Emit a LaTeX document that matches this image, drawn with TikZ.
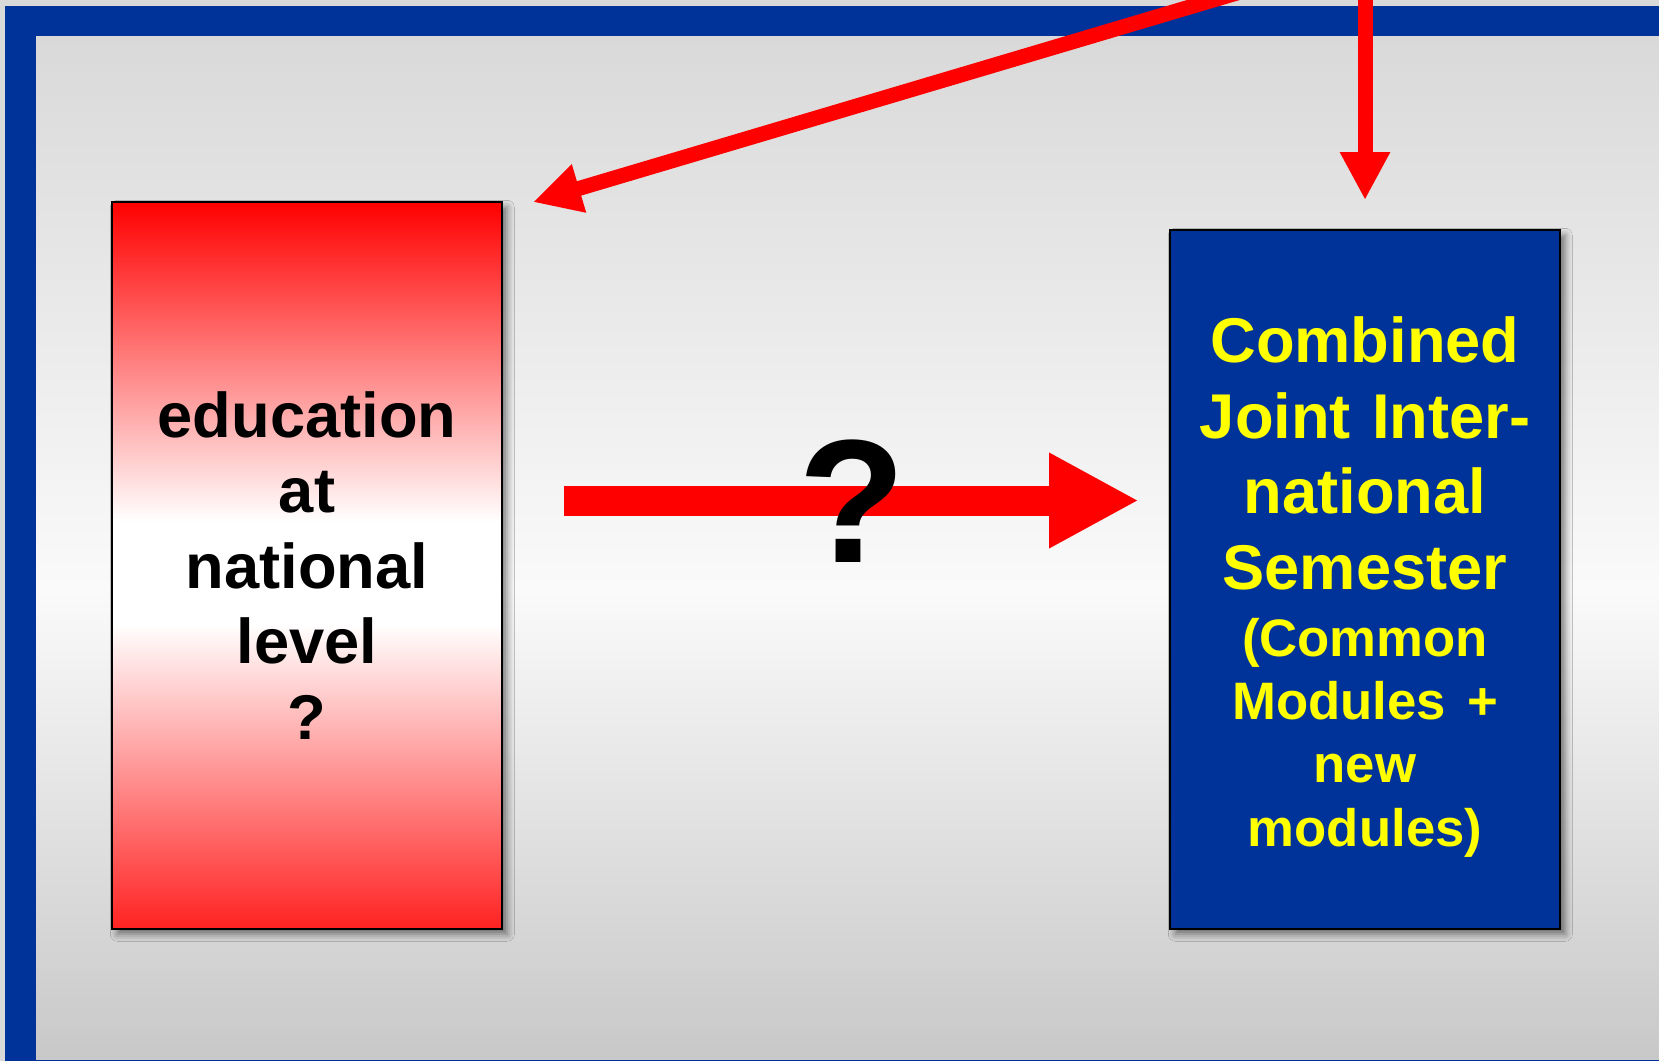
\documentclass[tikz,border=0pt]{standalone}
\usepackage{fontspec}
\setmainfont{Liberation Sans}
\usetikzlibrary{arrows.meta, positioning, calc, shadows.blur}

\definecolor{frameblue}{RGB}{0,51,153}
\definecolor{panelgray}{RGB}{217,217,217}
\definecolor{panellow}{RGB}{200,200,200}
\definecolor{panelwhite}{RGB}{250,250,250}
\definecolor{textyellow}{RGB}{255,255,0}
\definecolor{redlow}{RGB}{255,34,34}

\pgfdeclareverticalshading{panelfade}{100bp}{color(0bp)=(panellow); color(25bp)=(panellow); color(48bp)=(panelwhite); color(75bp)=(panelgray); color(100bp)=(panelgray)}
\pgfdeclareverticalshading{redfade}{100bp}{color(0bp)=(redlow); color(25bp)=(redlow); color(46bp)=(white); color(53bp)=(white); color(75bp)=(red); color(100bp)=(red)}

\begin{document}
\begin{tikzpicture}[x=0.02cm, y=-0.02cm,
    box/.style={draw=black, line width=1.2pt, inner sep=0pt, minimum width=7.8cm,
      blur shadow={shadow xshift=3pt, shadow yshift=-3pt, shadow blur radius=4pt, shadow opacity=50}},
    boxtext/.style={font=\fontsize{36}{43}\selectfont\bfseries, align=center},
    thinarrow/.style={-{Triangle[length=0.96cm, width=0.94cm]}, red, line width=0.3cm},
    fatarrow/.style={-{Triangle[length=1.8cm, width=1.78cm]}, red, line width=0.6cm}]
    \useasboundingbox (0,0) rectangle (1659,1061);
    \clip (0,0) rectangle (1659,1061);

    % Background and frame
    \fill[panelgray] (0,0) rectangle (1659,1061);
    \fill[frameblue] (5,6) rectangle (1659,1061);
    \shade[shading=panelfade] (36,37) rectangle (1659,1059);

    % Define the nodes
    \node[box, minimum height=14.54cm, shading=redfade, boxtext] (edu) at (307,565.5) {education\\at\\national\\level\\?};
    \node[box, minimum height=13.98cm, fill=frameblue] (joint) at (1365,579.5) {};
    \node[boxtext, text=textyellow, text width=7.8cm, inner sep=0pt] (jointtext) at ($(joint.center)+(0,7.5)$)
        {Combined\\Joint Inter-\\national\\Semester\par\vskip2pt\fontsize{30}{36}\selectfont(Common\\Modules +\\new\\modules)\par};

    % Free ends of the arrows
    \coordinate (diagsrc) at (1348,-40);
    \coordinate (vertsrc) at (1365,-40);
    \coordinate (row) at (0,500.5);

    % Draw the edges
    \draw[thinarrow, shorten >=0.626cm] (diagsrc) -- ($(edu.north east)+(0,10)$);
    \draw[thinarrow, shorten >=0.58cm] (vertsrc) -- (joint.north);
    \draw[fatarrow, shorten <=1.22cm, shorten >=0.6cm] (edu.east |- row) -- (joint.west |- row);

    % Question mark on the arrow
    \node[font=\fontsize{100}{120}\selectfont\bfseries, inner sep=0pt] (qmark) at (852,501) {?};
\end{tikzpicture}
\end{document}
